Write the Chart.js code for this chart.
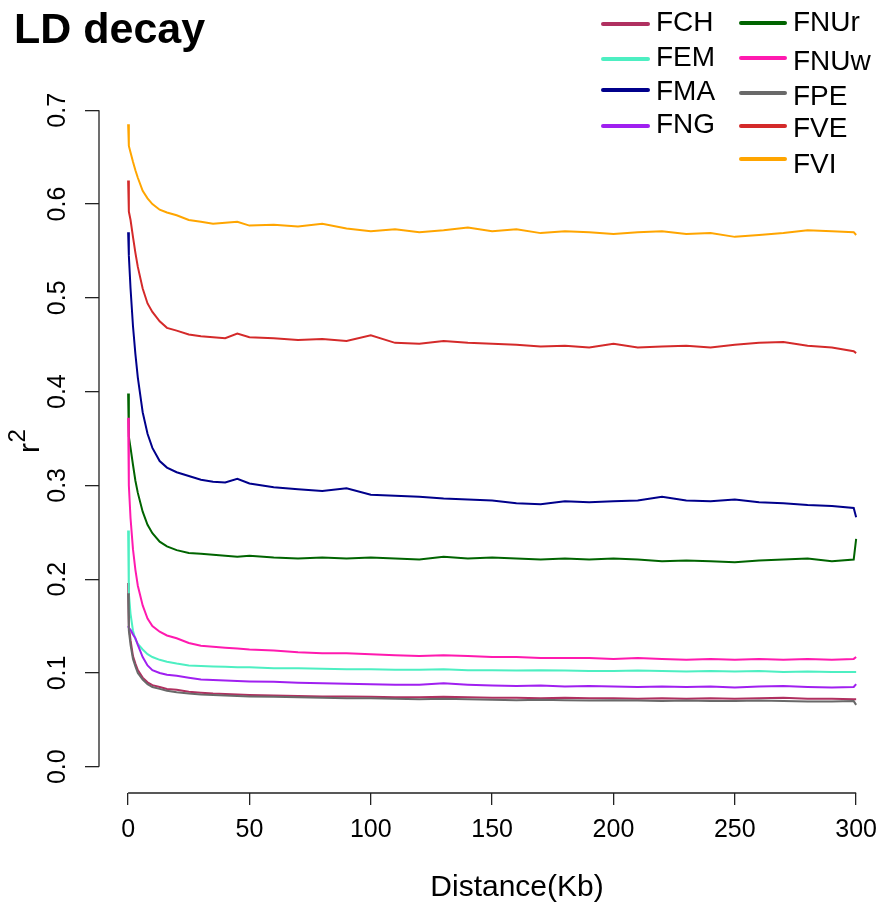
<!DOCTYPE html>
<html>
<head>
<meta charset="utf-8">
<script src="https://cdn.jsdelivr.net/npm/chart.js@4"></script>
<style>
  body { margin: 0; background: #fff; }
  #wrap { width: 887px; height: 907px; }
</style>
</head>
<body>
<div id="wrap"><canvas id="ld_decay" width="887" height="907"></canvas></div>
<script>
const distKb = [0, 0.3, 1, 2, 3, 4, 6, 8, 10, 13, 16, 20, 25, 30, 35, 40, 45, 50, 60, 70, 80, 90, 100,
  110, 120, 130, 140, 150, 160, 170, 180, 190, 200, 210, 220, 230, 240, 250, 260, 270, 280, 290, 299, 300]

const r2_FCH = [0.196, 0.150, 0.135, 0.118, 0.110, 0.103, 0.095, 0.090, 0.087, 0.085, 0.083, 0.082, 0.080, 0.079,
  0.078, 0.0775, 0.077, 0.0765, 0.076, 0.0755, 0.075, 0.075, 0.0745, 0.074, 0.074, 0.0745, 0.074, 0.0735, 0.0735,
  0.073, 0.0735, 0.073, 0.073, 0.0725, 0.073, 0.0725, 0.073, 0.0725, 0.073, 0.0735, 0.0725, 0.0725, 0.072, 0.072]
const r2_FEM = [0.252, 0.185, 0.163, 0.145, 0.136, 0.131, 0.125, 0.120, 0.117, 0.114, 0.112, 0.110, 0.108, 0.1075,
  0.107, 0.1065, 0.106, 0.106, 0.105, 0.105, 0.1045, 0.104, 0.104, 0.1035, 0.1035, 0.104, 0.103, 0.103, 0.1025,
  0.103, 0.1025, 0.102, 0.102, 0.1025, 0.102, 0.1015, 0.102, 0.1015, 0.102, 0.101, 0.1015, 0.101, 0.101, 0.101]
const r2_FMA = [0.570, 0.545, 0.510, 0.470, 0.440, 0.415, 0.378, 0.355, 0.340, 0.326, 0.319, 0.314, 0.310, 0.306,
  0.304, 0.303, 0.307, 0.302, 0.298, 0.296, 0.294, 0.297, 0.290, 0.289, 0.288, 0.286, 0.285, 0.284, 0.281,
  0.280, 0.283, 0.282, 0.283, 0.284, 0.288, 0.284, 0.283, 0.285, 0.282, 0.281, 0.279, 0.278, 0.276, 0.266]
const r2_FNG = [0.150, 0.148, 0.146, 0.141, 0.137, 0.130, 0.117, 0.108, 0.103, 0.100, 0.098, 0.097, 0.095, 0.093,
  0.0925, 0.092, 0.0915, 0.091, 0.0905, 0.0895, 0.089, 0.0885, 0.088, 0.0875, 0.0875, 0.089, 0.0875, 0.0865, 0.086,
  0.0865, 0.0855, 0.086, 0.0855, 0.085, 0.0855, 0.085, 0.0855, 0.0845, 0.0855, 0.086, 0.085, 0.0845, 0.085, 0.088]
const r2_FNUr = [0.398, 0.352, 0.340, 0.322, 0.305, 0.292, 0.272, 0.258, 0.249, 0.240, 0.235, 0.231, 0.228, 0.227,
  0.226, 0.225, 0.224, 0.225, 0.223, 0.222, 0.223, 0.222, 0.223, 0.222, 0.221, 0.224, 0.222, 0.223, 0.222,
  0.221, 0.222, 0.221, 0.222, 0.221, 0.219, 0.220, 0.219, 0.218, 0.220, 0.221, 0.222, 0.219, 0.221, 0.243]
const r2_FNUw = [0.372, 0.300, 0.265, 0.232, 0.210, 0.193, 0.172, 0.158, 0.150, 0.144, 0.140, 0.137, 0.132, 0.129,
  0.128, 0.127, 0.126, 0.125, 0.124, 0.122, 0.121, 0.121, 0.120, 0.119, 0.118, 0.119, 0.118, 0.117, 0.117,
  0.116, 0.116, 0.116, 0.115, 0.116, 0.115, 0.114, 0.115, 0.114, 0.115, 0.114, 0.115, 0.114, 0.115, 0.117]
const r2_FPE = [0.185, 0.145, 0.130, 0.115, 0.107, 0.100, 0.093, 0.088, 0.085, 0.083, 0.081, 0.0795, 0.078, 0.077,
  0.0765, 0.076, 0.0755, 0.075, 0.0745, 0.074, 0.0735, 0.073, 0.073, 0.0725, 0.072, 0.0725, 0.072, 0.0715, 0.071,
  0.0715, 0.071, 0.0705, 0.071, 0.0705, 0.070, 0.0705, 0.070, 0.070, 0.0705, 0.070, 0.0695, 0.0695, 0.070, 0.066]
const r2_FVE = [0.625, 0.592, 0.583, 0.565, 0.548, 0.533, 0.510, 0.494, 0.485, 0.475, 0.468, 0.465, 0.461, 0.459,
  0.458, 0.457, 0.462, 0.458, 0.457, 0.455, 0.456, 0.454, 0.460, 0.452, 0.451, 0.454, 0.452, 0.451, 0.450,
  0.448, 0.449, 0.447, 0.451, 0.447, 0.448, 0.449, 0.447, 0.450, 0.452, 0.453, 0.449, 0.447, 0.443, 0.441]
const r2_FVI = [0.685, 0.662, 0.655, 0.645, 0.636, 0.628, 0.614, 0.606, 0.600, 0.594, 0.591, 0.588, 0.583, 0.581,
  0.579, 0.580, 0.581, 0.577, 0.578, 0.576, 0.579, 0.574, 0.571, 0.573, 0.570, 0.572, 0.575, 0.571, 0.573,
  0.569, 0.571, 0.570, 0.568, 0.570, 0.571, 0.568, 0.569, 0.565, 0.567, 0.569, 0.572, 0.571, 0.570, 0.567]

const popNames = ['FCH', 'FEM', 'FMA', 'FNG', 'FNUr', 'FNUw', 'FPE', 'FVE', 'FVI']
const popValues = [r2_FCH, r2_FEM, r2_FMA, r2_FNG, r2_FNUr, r2_FNUw, r2_FPE, r2_FVE, r2_FVI]
const popColors = ['#B03060', '#4DEFC2', '#00008B', '#A020F0', '#006400', '#FF1AAF', '#696969', '#D42A2A', '#FFA500']

const xTicks = [0, 50, 100, 150, 200, 250, 300]
const yTicks = [0, 0.1, 0.2, 0.3, 0.4, 0.5, 0.6, 0.7]

const FONT = "'Liberation Sans', Arial, sans-serif"

// legend slots (col, line y, text baseline y), R legend with ncol = 2
const legendSlots = [
    [0, 24, 31], [0, 59, 66], [0, 90, 100], [0, 126, 133],
    [1, 23, 31], [1, 58, 70], [1, 93, 105], [1, 126, 137], [1, 159, 173]
]
const legendCols = [{ x1: 603, x2: 648, tx: 656 }, { x1: 741, x2: 785, tx: 793 }]

const datasets = popNames.map((name, i) => ({
    label: name,
    data: distKb.map((d, j) => ({ x: d, y: popValues[i][j] })),
    borderColor: popColors[i],
    borderWidth: 2,
    pointRadius: 0,
    tension: 0,
    order: popNames.length - i   // later populations drawn on top, like R lines()
}))

// title, axis lines, axis titles, legend in R base-graphics style
const rDecor = {
    id: 'rDecor',
    afterDraw(chart) {
        const ctx = chart.ctx
        const xs = chart.scales.x
        const ys = chart.scales.y
        const area = chart.chartArea
        ctx.save()

        ctx.strokeStyle = '#222'
        ctx.lineWidth = 1.3
        ctx.beginPath()
        ctx.moveTo(xs.getPixelForValue(xTicks[0]), area.bottom)
        ctx.lineTo(xs.getPixelForValue(xTicks[xTicks.length - 1]), area.bottom)
        ctx.moveTo(area.left, ys.getPixelForValue(yTicks[0]))
        ctx.lineTo(area.left, ys.getPixelForValue(yTicks[yTicks.length - 1]))
        ctx.stroke()

        ctx.fillStyle = '#000'
        ctx.textBaseline = 'alphabetic'
        ctx.textAlign = 'left'
        ctx.font = 'bold 43px ' + FONT
        ctx.fillText('LD decay', 14, 43)

        ctx.font = '30px ' + FONT
        ctx.textAlign = 'center'
        ctx.fillText('Distance(Kb)', 517, 896)

        // r^2
        ctx.save()
        ctx.translate(39, 453)
        ctx.rotate(-Math.PI / 2)
        ctx.textAlign = 'left'
        ctx.font = '30px ' + FONT
        ctx.fillText('r', 0, 0)
        ctx.font = '24px ' + FONT
        ctx.fillText('2', 10.5, -14)
        ctx.restore()

        ctx.lineCap = 'round'
        ctx.lineWidth = 4
        ctx.font = '28px ' + FONT
        ctx.textAlign = 'left'
        popNames.forEach((name, i) => {
            const [c, ly, ty] = legendSlots[i]
            const col = legendCols[c]
            ctx.strokeStyle = popColors[i]
            ctx.beginPath()
            ctx.moveTo(col.x1, ly)
            ctx.lineTo(col.x2, ly)
            ctx.stroke()
            ctx.fillText(name, col.tx, ty)
        })
        ctx.restore()
    }
}

const config = {
    type: 'line',
    data: { datasets: datasets },
    options: {
        responsive: false,
        animation: false,
        devicePixelRatio: 1,
        layout: { padding: { top: 84, right: 0, left: 0, bottom: 0 } },
        plugins: { legend: { display: false }, title: { display: false }, tooltip: { enabled: false } },
        scales: {
            x: {
                type: 'linear',
                min: -12,
                max: 312,
                afterBuildTicks: (s) => { s.ticks = xTicks.map(v => ({ value: v })) },
                afterFit: (s) => { s.height = 114 },
                border: { display: false },
                grid: { drawOnChartArea: false, drawTicks: true, tickLength: 12, color: '#222', lineWidth: 1.3 },
                ticks: {
                    autoSkip: false, maxRotation: 0, minRotation: 0, padding: 10, color: '#000',
                    font: { family: FONT, size: 25 }
                }
            },
            y: {
                type: 'linear',
                min: -0.028,
                max: 0.728,
                afterBuildTicks: (s) => { s.ticks = yTicks.map(v => ({ value: v })) },
                afterFit: (s) => { s.width = 99 },
                border: { display: false },
                grid: { drawOnChartArea: false, drawTicks: true, tickLength: 14, color: '#222', lineWidth: 1.3 },
                ticks: {
                    autoSkip: false, minRotation: 90, maxRotation: 90, crossAlign: 'center', padding: 10,
                    color: '#000', font: { family: FONT, size: 25 },
                    callback: (v) => v.toFixed(1)
                }
            }
        }
    },
    plugins: [rDecor]
}

const ldChart = new Chart(document.getElementById('ld_decay'), config)
</script>
</body>
</html>
